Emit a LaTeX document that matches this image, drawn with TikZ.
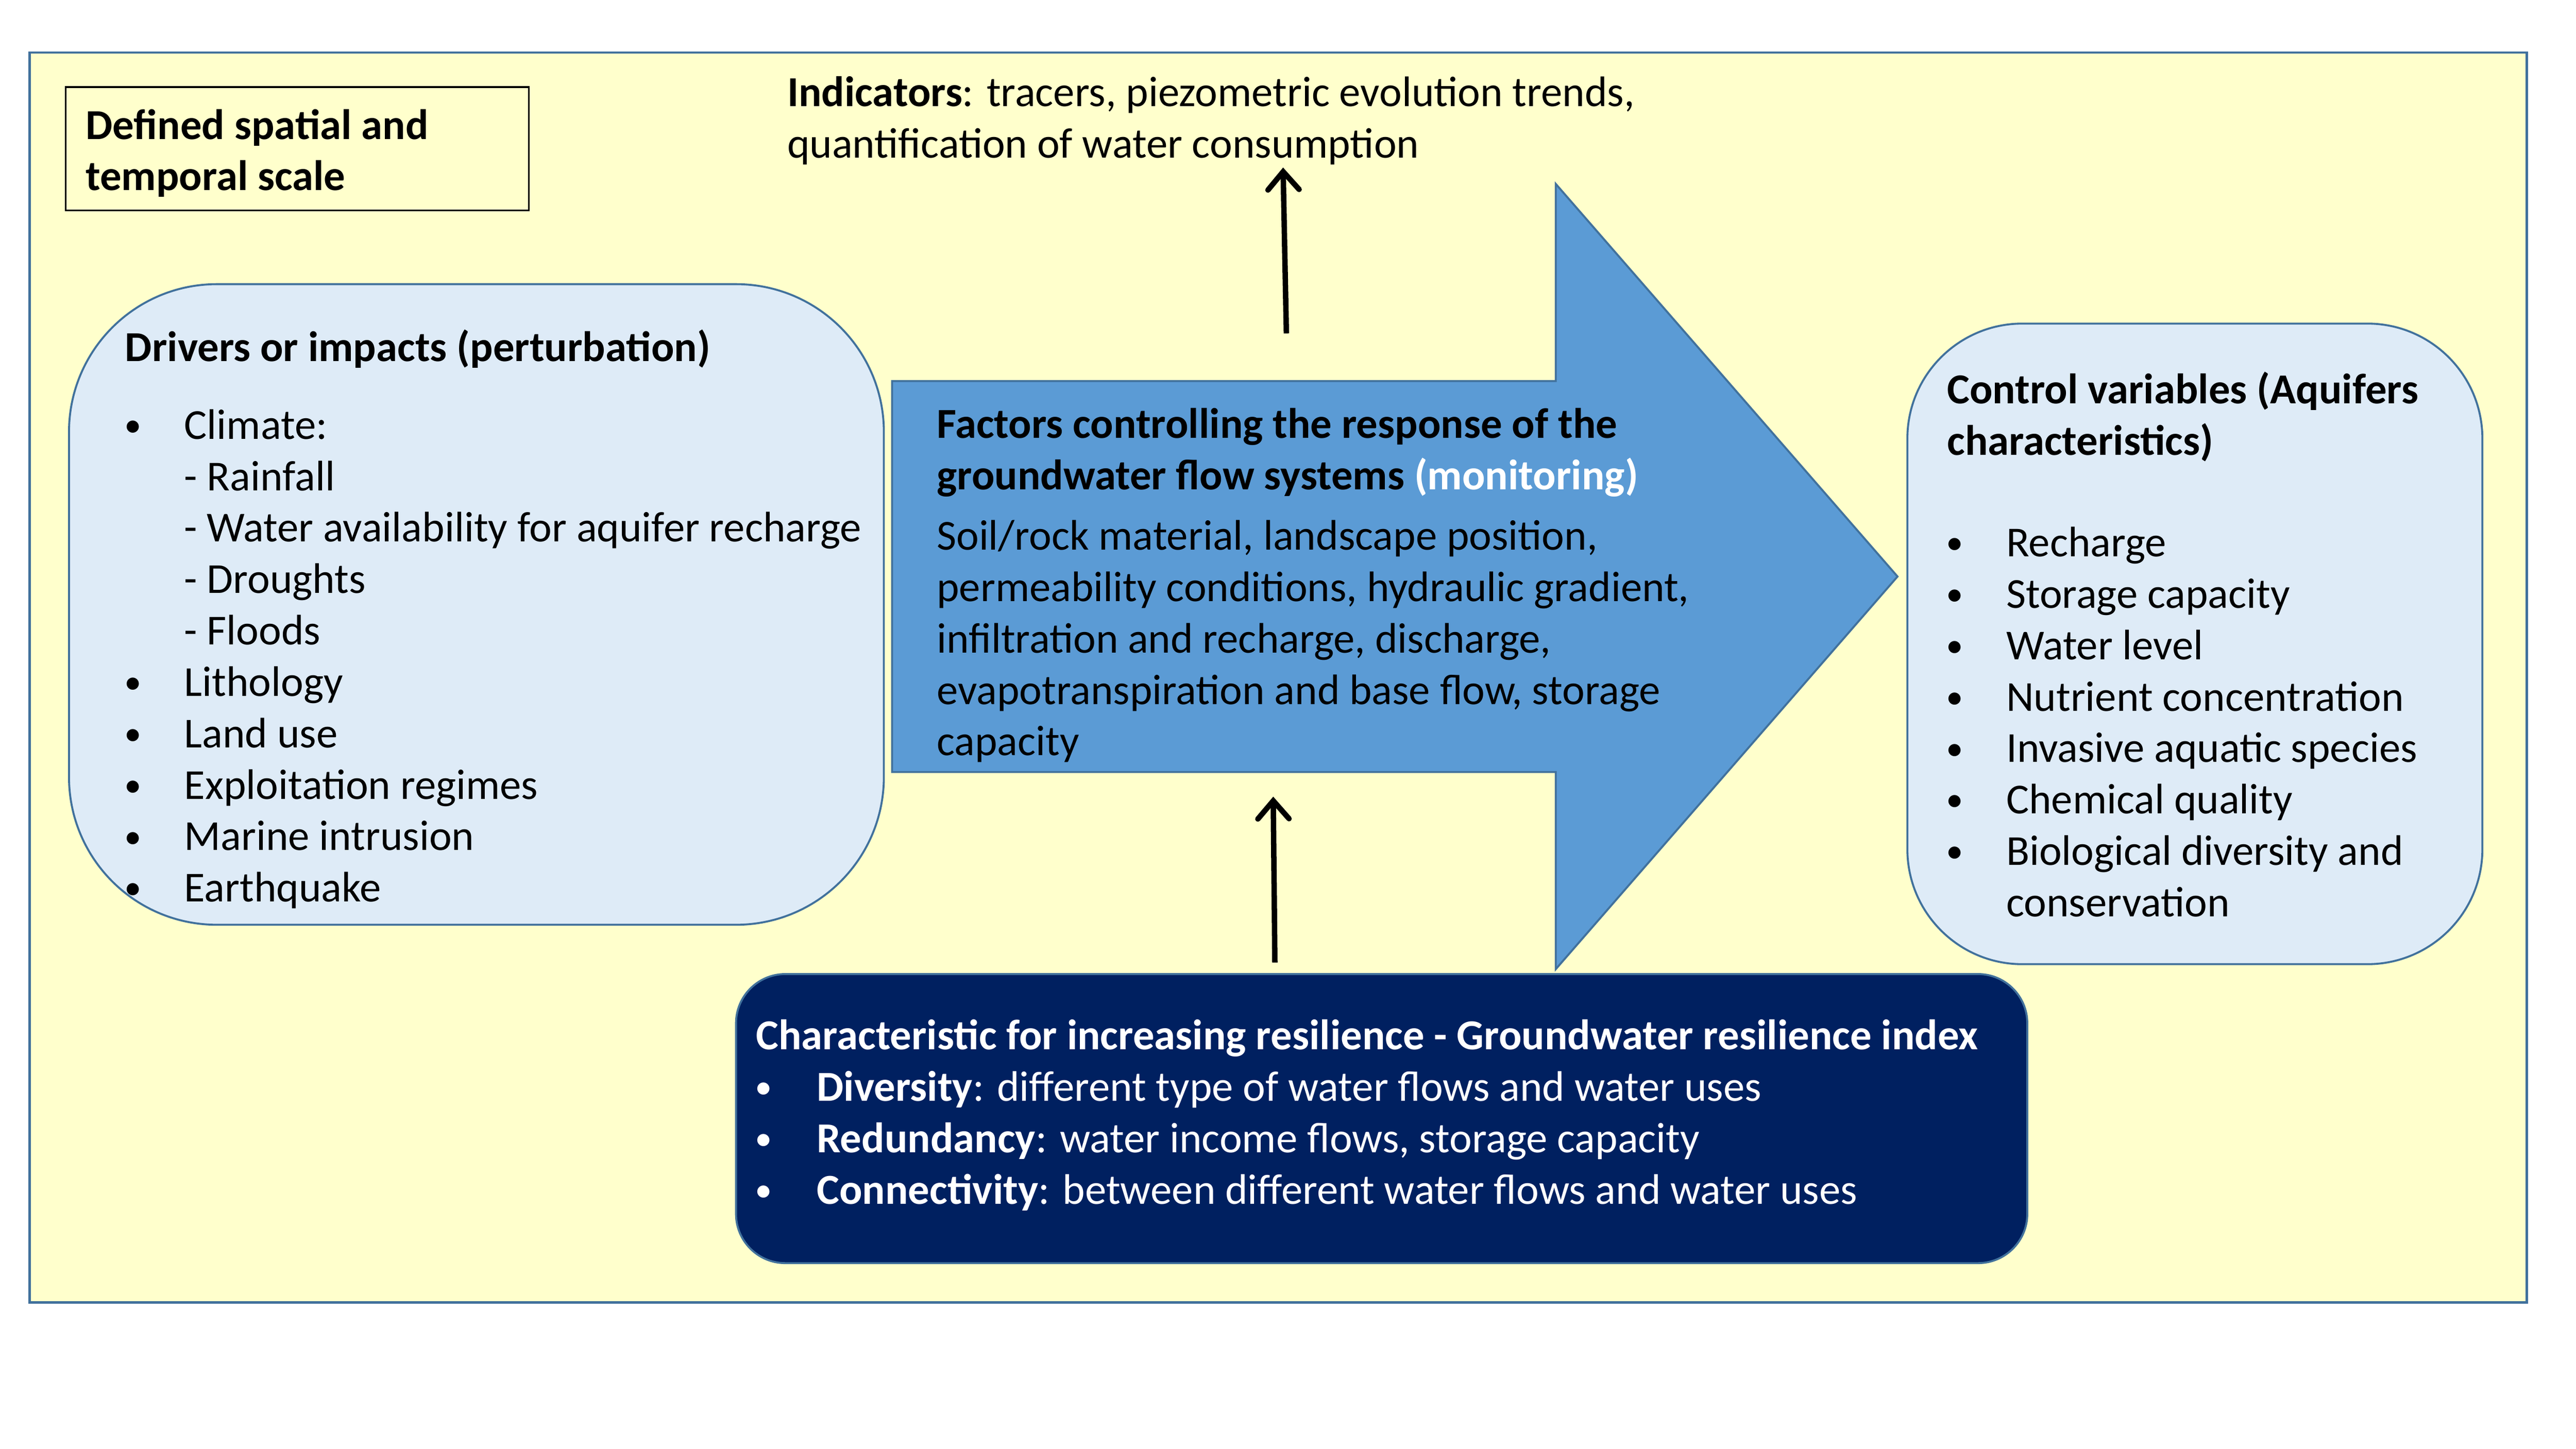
\documentclass[tikz,border=0pt]{standalone}
\usepackage{fontspec}
\setmainfont{Carlito}
\usetikzlibrary{arrows.meta}
\definecolor{bgyellow}{HTML}{FFFFCC}
\definecolor{lightblue}{HTML}{DEEBF7}
\definecolor{arrowblue}{HTML}{5B9BD5}
\definecolor{edgeblue}{HTML}{41719C}
\definecolor{navyblue}{HTML}{002060}
\newcommand\bulmark{\hspace*{-3.5pt}\raisebox{1.5pt}{\fontsize{21}{21}\selectfont •}}
\newcommand\bulitem{\makebox[33pt][l]{\bulmark}}
\newcommand\bulitemw{\makebox[34pt][l]{\bulmark}}
\newcommand\subindent{\hspace*{33pt}}
\begin{document}
\begin{tikzpicture}[x=1pt,y=-1pt,
  txt/.style={inner sep=0pt, anchor=base west, align=left, font=\fontsize{26}{31.3}\selectfont},
  boldtxt/.style={txt, font=\fontsize{26}{31.3}\selectfont\bfseries},
  softbox/.style={draw=edgeblue, line width=1.2pt, fill=lightblue},
  darkbox/.style={draw=edgeblue, line width=1.2pt, fill=navyblue},
  uparrow/.style={draw=black, line width=3.3pt, -{Straight Barb[length=11pt,width=19pt,line width=3.3pt,line cap=round,line join=miter]}}]
\useasboundingbox (0,0) rectangle (1568,882);
\fill[white] (0,0) rectangle (1568,882);
% outer frame
\draw[edgeblue, line width=1.5pt, fill=bgyellow] (18,32) rectangle (1538,793);
% scale box
\draw[black, line width=1pt] (40,53) rectangle (322,128);
\node[boldtxt] (scale) at (52,116) {Defined spatial and\\temporal scale};
% indicators
\node[txt] (ind) at (479,96) {\textbf{Indicators}: tracers, piezometric evolution trends,\\quantification of water consumption};
% drivers box
\draw[softbox, rounded corners=90pt] (42,173) rectangle (538,563);
\node[boldtxt] (drvtitle) at (76,220) {Drivers or impacts (perturbation)};
\node[txt] (drvlist) at (79,549) {\bulitem Climate:\\
\subindent - Rainfall\\
\subindent - Water availability for aquifer recharge\\
\subindent - Droughts\\
\subindent - Floods\\
\bulitem Lithology\\
\bulitem Land use\\
\bulitem Exploitation regimes\\
\bulitem Marine intrusion\\
\bulitem Earthquake};
% big arrow
\draw[draw=edgeblue, line width=1.2pt, fill=arrowblue, line join=miter]
  (543,232) -- (947,232) -- (947,112) -- (1155,351) -- (947,590) -- (947,470) -- (543,470) -- cycle;
\node[boldtxt] (factitle) at (570,298) {Factors controlling the response of the\\groundwater flow systems \textcolor{white}{(monitoring)}};
\node[txt] (facbody) at (570,460) {Soil/rock material, landscape position,\\permeability conditions, hydraulic gradient,\\infiltration and recharge, discharge,\\evapotranspiration and base flow, storage\\capacity};
% control variables box
\draw[softbox, rounded corners=70pt] (1161,197) rectangle (1511,587);
\node[boldtxt] (ctltitle) at (1185,277) {Control variables (Aquifers\\characteristics)};
\node[txt] (ctllist) at (1188,558) {\bulitem Recharge\\
\bulitem Storage capacity\\
\bulitem Water level\\
\bulitem Nutrient concentration\\
\bulitem Invasive aquatic species\\
\bulitem Chemical quality\\
\bulitem Biological diversity and\\
\subindent conservation};
% resilience box
\draw[darkbox, rounded corners=30pt] (448,593) rectangle (1234,769);
\node[boldtxt, text=white] (restitle) at (460,639) {Characteristic for increasing resilience - Groundwater resilience index};
\node[txt, text=white] (reslist) at (463,733) {\bulitemw\textbf{Diversity}: different type of water flows and water uses\\
\bulitemw\textbf{Redundancy}: water income flows, storage capacity\\
\bulitemw\textbf{Connectivity}: between different water flows and water uses};
% arrows
\coordinate (upTail) at (783,203);
\coordinate (upTip) at (781,102);
\coordinate (inTail) at (776,586);
\coordinate (inTip) at (775,485);
\draw[uparrow] (upTail) -- (upTip);
\draw[uparrow] (inTail) -- (inTip);
\end{tikzpicture}
\end{document}
